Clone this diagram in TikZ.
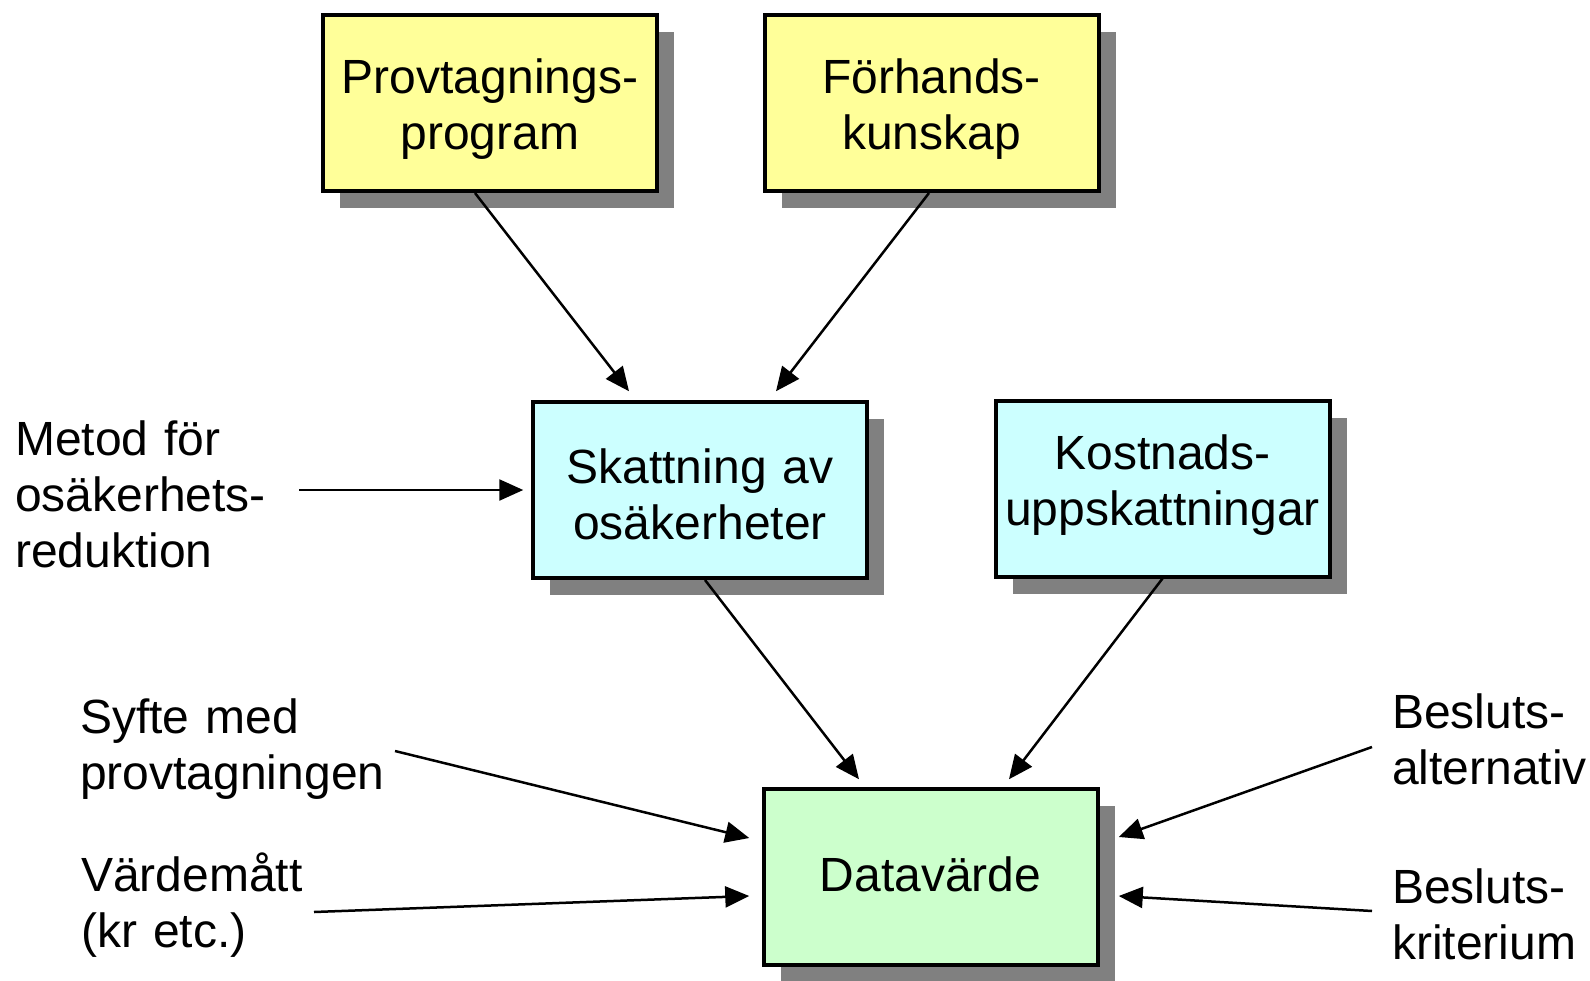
\documentclass[tikz,border=0pt]{standalone}
\usepackage{fontspec}
\setmainfont{Liberation Sans}
\usetikzlibrary{arrows.meta,shadows,calc}
\definecolor{boxyellow}{HTML}{FFFF99}
\definecolor{boxcyan}{HTML}{CCFFFF}
\definecolor{boxgreen}{HTML}{CCFFCC}
\definecolor{shadowgray}{HTML}{808080}
\begin{document}
\begin{tikzpicture}[x=1pt,y=-1pt,
  box/.style={draw=black, line width=4pt, minimum width=334pt, minimum height=176pt,
    inner sep=0pt, text width=320pt, align=center, text height=30pt,
    font=\fontsize{48}{56}\selectfont,
    drop shadow={shadow xshift=17pt, shadow yshift=-17pt, fill=shadowgray, opacity=1}},
  lbl/.style={anchor=base west, inner sep=0pt, text width=330pt, align=left,
    font=\fontsize{48}{56}\selectfont},
  conn/.style={line width=2.5pt, -{Triangle[length=24pt,width=21pt]}}
]
\useasboundingbox[fill=white] (0,0) rectangle (1590,980);

\node[box, fill=boxyellow, text depth=50pt] (prov) at (490,103) {Provtagnings-\\program};
\node[box, fill=boxyellow, text depth=50pt] (forh) at (931.5,103) {Förhands-\\kunskap};
\node[box, fill=boxcyan, text depth=44pt] (skatt) at (700,490) {Skattning av\\osäkerheter};
\node[box, fill=boxcyan, text depth=68pt] (kost) at (1162.5,488.5) {Kostnads-\\uppskattningar};
\node[box, fill=boxgreen, text depth=2pt] (data) at (930.5,877) {Datavärde};

\node[lbl] (metod) at (15,455) {Metod för\\osäkerhets-\\reduktion};
\node[lbl] (syfte) at (80,733) {Syfte med\\provtagningen};
\node[lbl] (varde) at (81,891) {Värdemått\\(kr etc.)};
\node[lbl] (besalt) at (1392,728) {Besluts-\\alternativ};
\node[lbl] (beskrit) at (1392,903) {Besluts-\\kriterium};

\coordinate (metodend) at (299,490);
\coordinate (syfteend) at (395,751);
\coordinate (vardeend) at (314,912);
\coordinate (besaltend) at (1372,747);
\coordinate (beskritend) at (1372,911);

\draw[conn] ($(prov.south)+(-15,0)$) -- ($(skatt.north)+(-71,-8.75)$);
\draw[conn] ($(forh.south)+(-2.5,0)$) -- ($(skatt.north)+(76,-8.75)$);
\draw[conn] (metodend) -- ($(skatt.west)+(-7.75,0)$);
\draw[conn] ($(skatt.south)+(5,0)$) -- ($(data.north)+(-71.5,-7.75)$);
\draw[conn] (kost.south) -- ($(data.north)+(78.5,-7.75)$);
\draw[conn] (syfteend) -- ($(data.west)+(-12.25,-39)$);
\draw[conn] (vardeend) -- ($(data.west)+(-12.25,19)$);
\draw[conn] (besaltend) -- ($(data.east)+(19.25,-40)$);
\draw[conn] (beskritend) -- ($(data.east)+(19.25,19)$);
\end{tikzpicture}
\end{document}
